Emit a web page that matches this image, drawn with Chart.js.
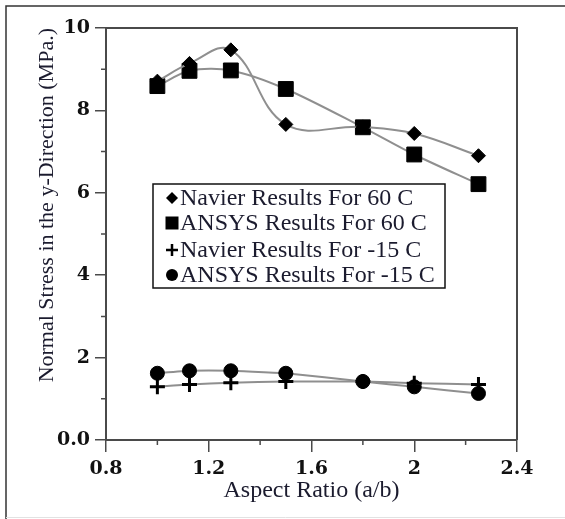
<!DOCTYPE html>
<html>
<head>
<meta charset="utf-8">
<script src="https://cdn.jsdelivr.net/npm/chart.js@4.4.0/dist/chart.umd.min.js"></script>
<style>
  html, body { margin: 0; padding: 0; background: #fff; }
  #wrap { width: 565px; height: 519px; position: relative; }
</style>
</head>
<body>
<div id="wrap"><canvas id="stressChart" width="565" height="519"></canvas></div>
<script>
// aspect ratios (a/b) and stress values
const aspectRatio = [1.0, 1.125, 1.286, 1.5, 1.8, 2.0, 2.25];
const navier60 = [8.71, 9.14, 9.47, 7.66, 7.60, 7.44, 6.90];
const ansys60 = [8.59, 8.96, 8.97, 8.52, 7.59, 6.93, 6.21];
const navierM15 = [1.29, 1.35, 1.39, 1.42, 1.42, 1.38, 1.35];
const ansysM15 = [1.62, 1.68, 1.68, 1.62, 1.42, 1.29, 1.13];

const seriesNames = [
    'Navier Results For 60 C',
    'ANSYS Results For 60 C',
    'Navier Results For -15 C',
    'ANSYS Results For -15 C'
];
const xTickLabels = ['0.8', '1.2', '1.6', '2', '2.4'];
const yTickLabels = ['0.0', '2', '4', '6', '8', '10'];
const xMinorTicks = [1.0, 1.4, 1.8, 2.2];
const yMinorTicks = [1, 3, 5, 7, 9];

const lineGrey = '#8f8f8f';
const axisGrey = '#4a4a4a';
const textColor = '#1b1b2e';

function toPoints(ys) {
    return aspectRatio.map((x, i) => ({ x: x, y: ys[i] }));
}

function makeSet(label, ys, style, radius, tension) {
    return {
        label: label,
        data: toPoints(ys),
        showLine: true,
        borderColor: lineGrey,
        borderWidth: 2,
        tension: tension,
        pointStyle: style,
        pointRadius: radius,
        pointHoverRadius: radius,
        pointBackgroundColor: '#000',
        pointBorderColor: '#000',
        pointBorderWidth: style === 'cross' ? 3 : 1,
    };
}

// outer frame, plot box, minor ticks
const framePlugin = {
    id: 'frame',
    beforeDraw(c) {
        const g = c.ctx;
        g.save();
        g.fillStyle = '#fff';
        g.fillRect(0, 0, c.width, c.height);
        g.strokeStyle = '#333';
        g.lineWidth = 1.5;
        g.beginPath();
        g.moveTo(6, 519);
        g.lineTo(6, 6);
        g.lineTo(565, 6);
        g.stroke();
        g.strokeStyle = '#e2e2e2';
        g.lineWidth = 1;
        g.beginPath();
        g.moveTo(6, 517.5);
        g.lineTo(565, 517.5);
        g.stroke();
        g.restore();
    },
    afterDraw(c) {
        const g = c.ctx;
        const a = c.chartArea;
        const xs = c.scales.x, ys = c.scales.y;
        g.save();
        g.strokeStyle = axisGrey;
        g.lineWidth = 2;
        g.beginPath();
        g.moveTo(a.left, a.top);
        g.lineTo(a.right, a.top);
        g.lineTo(a.right, a.bottom);
        g.stroke();
        g.lineWidth = 1.5;
        g.beginPath();
        xMinorTicks.forEach(v => {
            const px = xs.getPixelForValue(v);
            g.moveTo(px, a.bottom);
            g.lineTo(px, a.bottom + 5);
        });
        yMinorTicks.forEach(v => {
            const py = ys.getPixelForValue(v);
            g.moveTo(a.left, py);
            g.lineTo(a.left - 5, py);
        });
        g.stroke();
        g.restore();
    }
};

// legend box inside the plot
function drawMarker(g, style, x, y) {
    g.fillStyle = '#000';
    g.strokeStyle = '#000';
    g.beginPath();
    if (style === 'rectRot') {
        g.moveTo(x, y - 6); g.lineTo(x + 6, y); g.lineTo(x, y + 6); g.lineTo(x - 6, y);
        g.closePath(); g.fill();
    } else if (style === 'rect') {
        g.rect(x - 6.5, y - 6.5, 13, 13); g.fill();
    } else if (style === 'cross') {
        g.lineWidth = 2.5;
        g.moveTo(x - 6, y); g.lineTo(x + 6, y);
        g.moveTo(x, y - 6); g.lineTo(x, y + 6);
        g.stroke();
    } else {
        g.arc(x, y, 6, 0, Math.PI * 2); g.fill();
    }
}

const boxLegend = {
    id: 'boxLegend',
    afterDraw(c) {
        const g = c.ctx;
        const styles = ['rectRot', 'rect', 'cross', 'circle'];
        const rows = [198, 223, 250, 275];
        g.save();
        g.fillStyle = '#fff';
        g.fillRect(153, 184, 292, 104);
        g.strokeStyle = '#111';
        g.lineWidth = 1.5;
        g.strokeRect(153, 184, 292, 104);
        g.font = '24px "Liberation Serif", "Times New Roman", serif';
        g.textBaseline = 'middle';
        seriesNames.forEach((name, i) => {
            drawMarker(g, styles[i], 172, rows[i]);
            g.fillStyle = textColor;
            g.fillText(name, 180, rows[i] + 1);
        });
        g.restore();
    }
};

const tickFont = { family: '"DejaVu Serif", serif', size: 19, weight: 'bold' };
const titleFont = { family: '"Liberation Serif", "Times New Roman", serif', size: 22 };

new Chart(document.getElementById('stressChart'), {
    type: 'scatter',
    data: {
        datasets: [
            makeSet(seriesNames[0], navier60, 'rectRot', 7, 0.4),
            makeSet(seriesNames[1], ansys60, 'rect', 10.5, 0.3),
            makeSet(seriesNames[2], navierM15, 'cross', 7.5, 0.1),
            makeSet(seriesNames[3], ansysM15, 'circle', 7, 0.1),
        ],
    },
    options: {
        responsive: false,
        animation: false,
        layout: { padding: { left: 0, top: 28, right: 48, bottom: 0 } },
        plugins: {
            legend: { display: false },
            tooltip: { enabled: false },
        },
        scales: {
            x: {
                type: 'linear',
                min: 0.8,
                max: 2.4,
                afterFit: s => { s.height = 79; },
                ticks: {
                    stepSize: 0.4,
                    color: '#111',
                    font: tickFont,
                    padding: 6,
                    maxRotation: 0,
                    callback: (v, i) => xTickLabels[i],
                },
                grid: { drawOnChartArea: false, tickLength: 12, color: axisGrey, lineWidth: 1.5 },
                border: { display: true, color: axisGrey, width: 2 },
                title: {
                    display: true,
                    text: 'Aspect Ratio (a/b)',
                    color: textColor,
                    font: { family: titleFont.family, size: 24 },
                    padding: { top: 0, bottom: 14 },
                },
            },
            y: {
                min: 0,
                max: 10,
                afterFit: s => { s.width = 106; },
                ticks: {
                    stepSize: 2,
                    color: '#111',
                    font: tickFont,
                    padding: 5,
                    callback: (v, i) => yTickLabels[i],
                },
                grid: { drawOnChartArea: false, tickLength: 11, color: axisGrey, lineWidth: 1.5 },
                border: { display: true, color: axisGrey, width: 2 },
                title: {
                    display: true,
                    text: 'Normal Stress in the y-Direction (MPa.)',
                    align: 'end',
                    color: textColor,
                    font: titleFont,
                    padding: { top: 34, bottom: 0 },
                },
            },
        },
    },
    plugins: [framePlugin, boxLegend],
});
</script>
</body>
</html>
